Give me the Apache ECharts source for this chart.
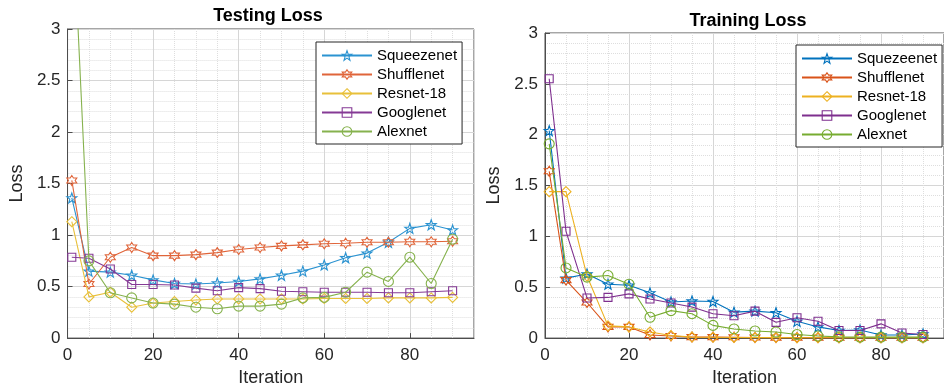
<!DOCTYPE html>
<html>
<head>
<meta charset="utf-8">
<script src="https://cdn.jsdelivr.net/npm/echarts@6/dist/echarts.min.js"></script>
<style>
    html, body { margin: 0; padding: 0; background: #ffffff; }
    #wrap { position: relative; width: 944px; height: 392px; overflow: hidden; }
    #testChart { position: absolute; left: 0; top: 0; width: 500px; height: 392px; }
    #trainChart { position: absolute; left: 470px; top: 0; width: 474px; height: 392px; }
</style>
</head>
<body>
<div id="wrap">
    <div id="testChart"></div>
    <div id="trainChart"></div>
</div>
<script>
// iterations sampled in both plots
const iterations = [1, 5, 10, 15, 20, 25, 30, 35, 40, 45, 50, 55, 60, 65, 70, 75, 80, 85, 90]

// Testing loss (left plot)
const testSqueezenet = [1.36, 0.65, 0.64, 0.61, 0.565, 0.53, 0.525, 0.535, 0.55, 0.575, 0.61, 0.65, 0.71, 0.78, 0.825, 0.93, 1.065, 1.10, 1.05]
const testShufflenet = [1.53, 0.525, 0.785, 0.88, 0.80, 0.80, 0.81, 0.83, 0.86, 0.88, 0.895, 0.905, 0.915, 0.92, 0.93, 0.93, 0.935, 0.935, 0.94]
const testResnet18 = [1.13, 0.40, 0.445, 0.30, 0.34, 0.355, 0.37, 0.38, 0.38, 0.38, 0.38, 0.38, 0.385, 0.385, 0.385, 0.39, 0.39, 0.39, 0.395]
const testGooglenet = [0.785, 0.775, 0.67, 0.52, 0.52, 0.515, 0.485, 0.46, 0.49, 0.48, 0.455, 0.45, 0.445, 0.445, 0.445, 0.44, 0.44, 0.45, 0.46]
const testAlexnet = [4.3, 0.75, 0.44, 0.39, 0.34, 0.33, 0.30, 0.285, 0.31, 0.31, 0.33, 0.39, 0.395, 0.445, 0.64, 0.55, 0.785, 0.53, 0.96]

// Training loss (right plot)
const trainSqueezenet = [2.04, 0.59, 0.63, 0.53, 0.52, 0.445, 0.355, 0.365, 0.36, 0.255, 0.265, 0.25, 0.165, 0.11, 0.075, 0.08, 0.03, 0.03, 0.04]
const trainShufflenet = [1.64, 0.57, 0.35, 0.11, 0.11, 0.03, 0.02, 0.01, 0.01, 0.008, 0.006, 0.005, 0.005, 0.005, 0.004, 0.004, 0.004, 0.003, 0.003]
const trainResnet18 = [1.44, 1.44, 0.61, 0.12, 0.11, 0.06, 0.025, 0.01, 0.008, 0.006, 0.005, 0.005, 0.004, 0.004, 0.003, 0.003, 0.003, 0.003, 0.003]
const trainGooglenet = [2.55, 1.05, 0.395, 0.40, 0.435, 0.385, 0.345, 0.305, 0.24, 0.22, 0.265, 0.155, 0.20, 0.165, 0.075, 0.075, 0.14, 0.05, 0.035]
const trainAlexnet = [1.91, 0.69, 0.60, 0.615, 0.53, 0.205, 0.27, 0.24, 0.125, 0.09, 0.07, 0.06, 0.035, 0.02, 0.012, 0.01, 0.01, 0.01, 0.01]

const testNames = ['Squeezenet', 'Shufflenet', 'Resnet-18', 'Googlenet', 'Alexnet']
const trainNames = ['Squezeenet', 'Shufflenet', 'Resnet-18', 'Googlenet', 'Alexnet']

// MATLAB-like marker shapes
const STAR = 'path://M0,-10L2.35,-3.24L9.51,-3.09L3.8,1.24L5.88,8.09L0,4L-5.88,8.09L-3.8,1.24L-9.51,-3.09L-2.35,-3.24Z'
const HEXAGRAM = 'path://M0,-10L2.887,-5L8.66,-5L5.774,0L8.66,5L2.887,5L0,10L-2.887,5L-8.66,5L-5.774,0L-8.66,-5L-2.887,-5Z'
const markers = [
    { symbol: STAR, size: 10 },
    { symbol: HEXAGRAM, size: 10 },
    { symbol: 'diamond', size: 10 },
    { symbol: 'rect', size: 8 },
    { symbol: 'circle', size: 10 }
]

const FONT = '"Liberation Sans", Arial, Helvetica, sans-serif'
const TEXT = '#262626'
const CLEAR = 'rgba(255,255,255,0)'

function buildOption(cfg) {
    const series = cfg.values.map((vals, i) => ({
        name: cfg.names[i],
        type: 'line',
        data: iterations.map((x, j) => [x, vals[j]]),
        symbol: markers[i].symbol,
        symbolSize: markers[i].size,
        showAllSymbol: true,
        clip: true,
        z: 2 + i,
        lineStyle: { color: cfg.colors[i], width: 1.1 },
        itemStyle: { color: CLEAR, borderColor: cfg.colors[i], borderWidth: 1.1 },
        emphasis: { disabled: true }
    }))

    return {
        animation: false,
        backgroundColor: 'transparent',
        textStyle: { fontFamily: FONT },
        graphic: [{
            type: 'text',
            x: cfg.titleX,
            y: cfg.titleY,
            style: {
                text: cfg.title,
                align: 'center',
                verticalAlign: 'middle',
                font: 'bold 18px ' + FONT,
                fill: '#000'
            }
        }],
        legend: {
            data: cfg.names,
            orient: 'vertical',
            left: cfg.legendLeft,
            top: cfg.legendTop,
            padding: [6, 5, 5, 5],
            itemGap: 4,
            itemWidth: 50,
            itemHeight: 12,
            backgroundColor: '#ffffff',
            borderColor: '#262626',
            borderWidth: 1,
            // hollow markers in the legend too
            itemStyle: { color: CLEAR, borderWidth: 1.1 },
            textStyle: { fontSize: 15, color: '#000', fontFamily: FONT }
        },
        grid: {
            left: cfg.gridLeft,
            top: cfg.gridTop,
            width: cfg.gridWidth,
            height: cfg.gridHeight,
            show: true,
            borderColor: '#4d4d4d',
            borderWidth: 1,
            backgroundColor: '#ffffff'
        },
        xAxis: {
            type: 'value',
            min: 0,
            max: 95,
            interval: 20,
            name: 'Iteration',
            nameLocation: 'middle',
            nameGap: 30,
            nameTextStyle: { fontSize: 18, color: TEXT, fontFamily: FONT },
            axisLine: { show: true, lineStyle: { color: '#4d4d4d' } },
            axisTick: { show: true, inside: true, length: 5, lineStyle: { color: '#4d4d4d' } },
            axisLabel: { fontSize: 17, color: TEXT, margin: 9, fontFamily: FONT, showMaxLabel: false },
            splitLine: { show: true, lineStyle: { color: '#d6d6d6', width: 1 } },
            minorTick: { show: false, splitNumber: 4 },
            minorSplitLine: { show: true, lineStyle: { color: '#dedede', type: 'dotted', width: 1 } }
        },
        yAxis: {
            type: 'value',
            min: 0,
            max: 3,
            interval: 0.5,
            name: 'Loss',
            nameLocation: 'middle',
            nameGap: 36,
            nameTextStyle: { fontSize: 18, color: TEXT, fontFamily: FONT },
            axisLine: { show: true, lineStyle: { color: '#4d4d4d' } },
            axisTick: { show: true, inside: true, length: 5, lineStyle: { color: '#4d4d4d' } },
            axisLabel: { fontSize: 17, color: TEXT, margin: 7, fontFamily: FONT },
            splitLine: { show: true, lineStyle: { color: '#d6d6d6', width: 1 } },
            minorTick: { show: false, splitNumber: 5 },
            minorSplitLine: { show: true, lineStyle: { color: '#dedede', type: 'dotted', width: 1 } }
        },
        series: series
    }
}

const testChart = echarts.init(document.getElementById('testChart'))
testChart.setOption(buildOption({
    title: 'Testing Loss',
    titleX: 268,
    titleY: 16,
    names: testNames,
    values: [testSqueezenet, testShufflenet, testResnet18, testGooglenet, testAlexnet],
    colors: ['#2b93d1', '#e0653a', '#e8c03a', '#853a95', '#86b24e'],
    legendLeft: 316,
    legendTop: 42,
    gridLeft: 63,
    gridTop: 29,
    gridWidth: 411,
    gridHeight: 310
}))

const trainChart = echarts.init(document.getElementById('trainChart'))
trainChart.setOption(buildOption({
    title: 'Training Loss',
    titleX: 278,
    titleY: 21,
    names: trainNames,
    values: [trainSqueezenet, trainShufflenet, trainResnet18, trainGooglenet, trainAlexnet],
    colors: ['#0072bd', '#d95319', '#edb120', '#7e2f8e', '#77ac30'],
    legendLeft: 326,
    legendTop: 45,
    gridLeft: 75,
    gridTop: 33,
    gridWidth: 407,
    gridHeight: 306
}))
</script>
</body>
</html>
